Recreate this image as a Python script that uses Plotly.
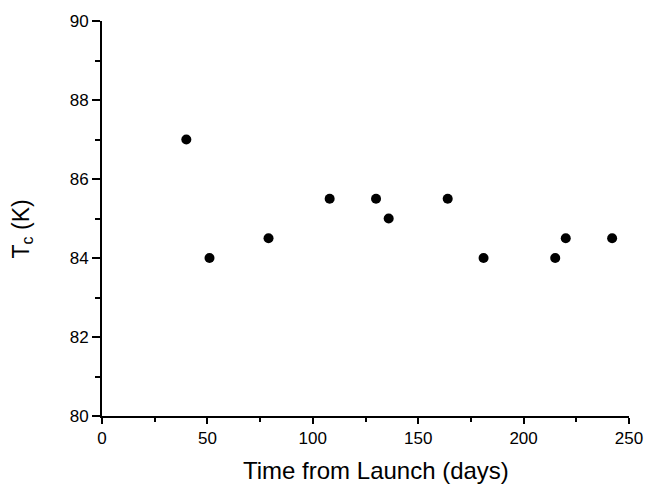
import plotly.graph_objects as go

days = [40, 51, 79, 108, 130, 136, 164, 181, 215, 220, 242]
tc = [87, 84, 84.5, 85.5, 85.5, 85, 85.5, 84, 84, 84.5, 84.5]
x_ticks = [0, 50, 100, 150, 200, 250]
y_ticks = [80, 82, 84, 86, 88, 90]

fig = go.Figure()
fig.add_trace(go.Scatter(x=days, y=tc, mode="markers",
                         marker=dict(color="black", size=10, line=dict(width=0)),
                         cliponaxis=False))

font = "Liberation Sans, Arial, Helvetica, sans-serif"
L, R, T, B = 102, 16, 19, 69
pw = 655 - L - R
ph = 485 - T - B

fig.update_layout(
    width=655, height=485,
    margin=dict(l=L, r=R, t=T, b=B),
    paper_bgcolor="white", plot_bgcolor="white",
    showlegend=False,
    font=dict(family=font, color="black", size=17),
    xaxis=dict(range=[0, 250], tickvals=x_ticks, showgrid=False, zeroline=False,
               showline=True, linecolor="black", linewidth=2,
               ticks="outside", ticklen=6, tickwidth=1.5, tickcolor="black",
               minor=dict(dtick=25, ticks="outside", ticklen=4, tickwidth=1.5, tickcolor="black", showgrid=False),
               tickfont=dict(size=17)),
    yaxis=dict(range=[80, 90], tickvals=y_ticks, showgrid=False, zeroline=False,
               showline=True, linecolor="black", linewidth=2,
               ticks="outside", ticklen=8, tickwidth=1.5, tickcolor="black",
               minor=dict(dtick=1, ticks="outside", ticklen=5, tickwidth=1.5, tickcolor="black", showgrid=False),
               tickfont=dict(size=17)),
    annotations=[
        dict(text="Time from Launch (days)", xref="paper", yref="paper",
             x=(381 - L) / pw, y=-(471 - (485 - B)) / ph,
             xanchor="center", yanchor="middle", showarrow=False,
             font=dict(size=24)),
        dict(text="T<sub>c</sub> (K)", xref="paper", yref="paper",
             x=(21 - L) / pw, y=((485 - B) - 228) / ph,
             xanchor="center", yanchor="middle", showarrow=False, textangle=-90,
             font=dict(size=23)),
    ],
)

fig.write_html("out.html", config={"displayModeBar": False},
               post_script="document.body.style.margin='0';document.body.style.overflow='hidden';")
